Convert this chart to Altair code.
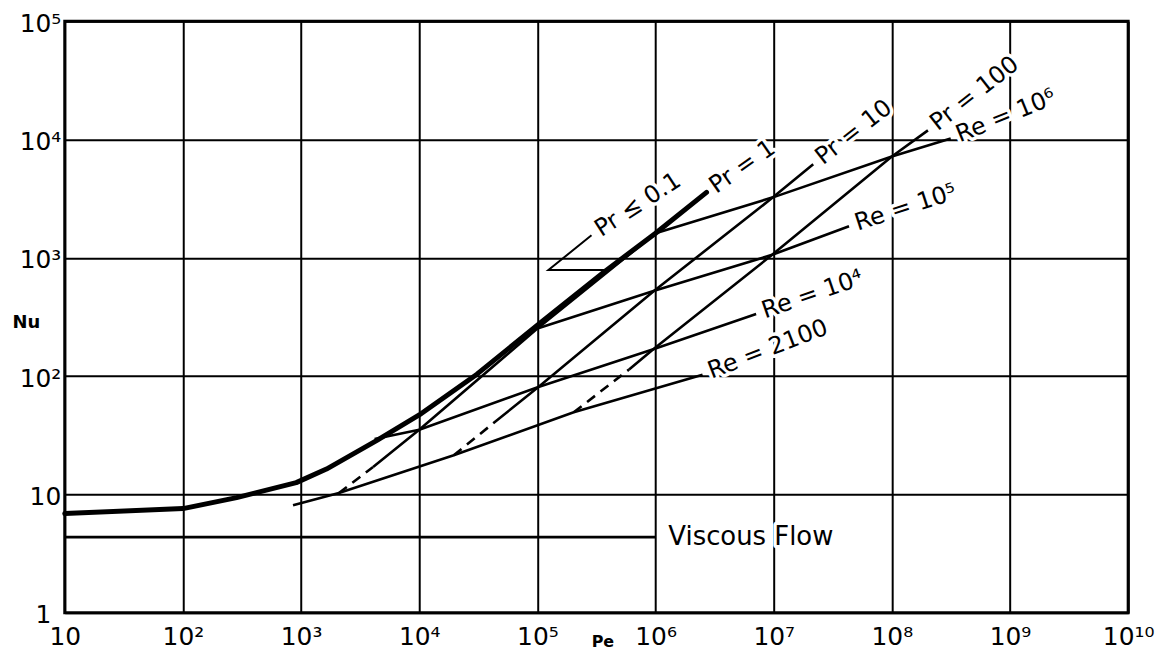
import altair as alt
import pandas as pd

# ---------------- data ----------------
# Pr <= 0.1 (thick curve)
thick_pe = [10, 100, 285, 910, 1640, 4350, 1e4, 3.08e4, 1e5, 3.65e5, 1e6, 2.7e6]
thick_nu = [6.9, 7.6, 9.4, 12.6, 16.4, 28.5, 47, 104, 270, 758, 1616, 3580]

# Pr = 1
pr1_dash_pe = [2090, 4070]
pr1_dash_nu = [10.3, 17.1]
pr1_pe = [4070, 1e4, 1e5, 1e6, 2.7e6]
pr1_nu = [17.1, 35.2, 253, 1616, 3580]

# Pr = 10
pr10_dash_pe = [19600, 42300]
pr10_dash_nu = [21.5, 40]
pr10_pe = [42300, 1.02e5, 9.75e5, 9.86e6, 2.16e7]
pr10_nu = [40, 81, 528, 3250, 6180]

# Pr = 100
pr100_dash_pe = [2.03e5, 5.97e5]
pr100_dash_nu = [49.5, 114]
pr100_pe = [5.97e5, 9.57e5, 9.7e6, 1e8, 2.02e8]
pr100_nu = [114, 169, 1062, 7190, 11970]

# Reynolds-number lines
re6_pe = [1e6, 9.86e6, 1e8, 3.15e8]
re6_nu = [1616, 3250, 7190, 10200]
re5_pe = [1e5, 9.75e5, 9.7e6, 4.34e7]
re5_nu = [253, 528, 1062, 1850]
re4_pe = [4190, 1e4, 1.02e5, 9.57e5, 7.1e6]
re4_nu = [29.4, 35.2, 81, 169, 335]
re2100_pe = [855, 2090, 19600, 2.03e5, 2.5e6]
re2100_nu = [8.1, 10.3, 21.5, 49.5, 103]

# viscous (laminar) flow
visc_pe = [10, 9.9e5]
visc_nu = [4.36, 4.36]

# leader for the Pr <= 0.1 label
lead_pe = [3.9e5, 1.24e5, 2.87e5]
lead_nu = [790, 790, 1553]

# labels
lab_text = ["Pr ≤ 0.1", "Pr = 1", "Pr = 10", "Pr = 100", "Re = 10⁶",
            "Re = 10⁵", "Re = 10⁴", "Re = 2100", "Viscous  Flow"]
lab_pe = [2.87e5, 2.7e6, 2.16e7, 2.02e8, 3.15e8, 4.34e7, 7.1e6, 2.5e6, 1.12e6]
lab_nu = [1553, 3580, 6180, 11970, 10200, 1850, 335, 103, 4.36]
lab_angle = [327, 325, 322, 322, 338, 342, 341, 339, 0]
lab_size = [24, 24, 24, 24, 24, 24, 24, 24, 26]

x_ticks = [10 ** k for k in range(1, 11)]
y_ticks = [10 ** k for k in range(0, 6)]

# ---------------- build table ----------------
rows = []


def add(name, style, pe, nu):
    for i, (a, b) in enumerate(zip(pe, nu)):
        rows.append({"series": name, "style": style, "Pe": a, "Nu": b, "order": i})


add("Pr<=0.1", "thick", thick_pe, thick_nu)
add("Pr=1 dashed", "dash", pr1_dash_pe, pr1_dash_nu)
add("Pr=1", "solid", pr1_pe, pr1_nu)
add("Pr=10 dashed", "dash", pr10_dash_pe, pr10_dash_nu)
add("Pr=10", "solid", pr10_pe, pr10_nu)
add("Pr=100 dashed", "dash", pr100_dash_pe, pr100_dash_nu)
add("Pr=100", "solid", pr100_pe, pr100_nu)
add("Re=1e6", "solid", re6_pe, re6_nu)
add("Re=1e5", "solid", re5_pe, re5_nu)
add("Re=1e4", "solid", re4_pe, re4_nu)
add("Re=2100", "solid", re2100_pe, re2100_nu)
add("Viscous", "solid", visc_pe, visc_nu)
add("leader", "thin", lead_pe, lead_nu)
df = pd.DataFrame(rows)

labels = pd.DataFrame({"text": lab_text, "Pe": lab_pe, "Nu": lab_nu,
                       "angle": lab_angle, "size": lab_size})

FONT = "DejaVu Sans"

tick_expr = ("['1','10','10²','10³','10⁴','10⁵','10⁶','10⁷','10⁸','10⁹','10¹⁰']"
             "[round(log(datum.value)/LN10)]")

xscale = alt.Scale(type="log", domain=[10, 1e10], nice=False)
yscale = alt.Scale(type="log", domain=[1, 1e5], nice=False)

xenc = alt.X(
    "Pe:Q", scale=xscale,
    axis=alt.Axis(
        values=x_ticks, labelExpr=tick_expr, labelFont=FONT, labelFontSize=25,
        labelColor="black", labelFlush=False, labelOverlap=False, labelPadding=12,
        ticks=False, domain=False, grid=True, gridColor="black", gridWidth=2,
        gridOpacity=1, title="Pe", titleFont=FONT, titleFontSize=16,
        titleFontWeight="bold", titleColor="black", titleX=540, titleY=29,
        titleAlign="center", titleBaseline="middle",
    ),
)
yenc = alt.Y(
    "Nu:Q", scale=yscale,
    axis=alt.Axis(
        values=y_ticks, labelExpr=tick_expr, labelFont=FONT, labelFontSize=25,
        labelColor="black", labelFlush=False, labelOverlap=False,
        labelPadding={"condition": {"test": "datum.value == 1", "value": 14}, "value": 4},
        labelOffset=2,
        ticks=False, domain=False, grid=True, gridColor="black", gridWidth=2,
        gridOpacity=1, title="Nu", titleFont=FONT, titleFontSize=18,
        titleFontWeight="bold", titleColor="black", titleAngle=0, titleX=-39,
        titleY=302, titleAlign="center", titleBaseline="middle",
    ),
)

base = alt.Chart(df).encode(x=xenc, y=yenc, detail="series:N", order="order:Q")

thick = base.transform_filter(alt.datum.style == "thick").mark_line(
    color="black", strokeWidth=5, strokeCap="round", strokeJoin="round")
solid = base.transform_filter(alt.datum.style == "solid").mark_line(
    color="black", strokeWidth=2.6, strokeJoin="round")
thin = base.transform_filter(alt.datum.style == "thin").mark_line(
    color="black", strokeWidth=2, strokeJoin="miter")
dashed = base.transform_filter(alt.datum.style == "dash").mark_line(
    color="black", strokeWidth=2.6, strokeDash=[10, 7])

text_base = alt.Chart(labels).encode(
    x=alt.X("Pe:Q", scale=xscale),
    y=alt.Y("Nu:Q", scale=yscale),
    text="text:N",
    angle=alt.Angle("angle:Q", scale=None),
    size=alt.Size("size:Q", scale=None),
)
# white halo interrupts the grid behind the lettering, as in the original
halo = text_base.mark_text(
    align="left", baseline="middle", font=FONT, color="white", dx=7,
    stroke="white", strokeWidth=7, strokeJoin="round")
text = text_base.mark_text(
    align="left", baseline="middle", font=FONT, color="black", dx=7)

chart = alt.layer(thick, solid, thin, dashed, halo, text).properties(
    width=1068, height=594,
    padding={"left": 57, "top": 12, "right": 40, "bottom": 36},
    autosize=alt.AutoSizeParams(type="none"),
    background="white",
).configure_view(stroke="black", strokeWidth=3)

chart.save("out.html", embed_options={"renderer": "svg", "actions": False})
